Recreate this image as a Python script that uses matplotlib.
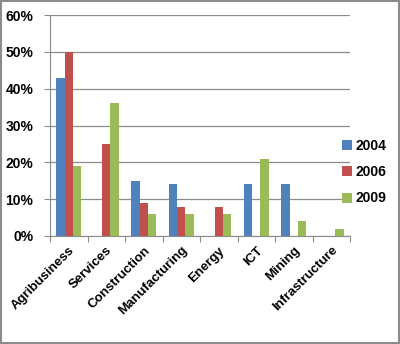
import matplotlib.pyplot as plt
import numpy as np
from matplotlib.patches import Rectangle

sectors = ['Agribusiness', 'Services', 'Construction', 'Manufacturing',
           'Energy', 'ICT', 'Mining', 'Infrastructure']
years = ['2004', '2006', '2009']
share_2004 = [43, 0, 15, 14, 0, 14, 14, 0]
share_2006 = [50, 25, 9, 8, 8, 0, 0, 0]
share_2009 = [19, 36, 6, 6, 6, 21, 4, 2]
colors = ['#4F81BD', '#C0504D', '#9BBB59']

plt.rcParams['font.family'] = ['Liberation Sans', 'DejaVu Sans']

fig = plt.figure(figsize=(4, 3.44), dpi=100)
ax = fig.add_axes([0.125, 0.314, 0.75, 0.642])

x = np.arange(len(sectors))
w = 1 / 4.5
for k, vals in enumerate([share_2004, share_2006, share_2009]):
    ax.bar(x + (k - 1) * w, vals, width=w, color=colors[k], label=years[k], zorder=3)

ax.set_xlim(-0.5, len(sectors) - 0.5)
ax.set_ylim(0, 60)
ax.set_yticks(range(0, 61, 10))
ax.set_yticklabels([f'{v}%' for v in range(0, 61, 10)], fontsize=10, fontweight='bold')
ax.yaxis.grid(True, color='#8c8c8c', linewidth=0.9, zorder=0)

ax.set_xticks(np.arange(-0.5, len(sectors), 1))
ax.set_xticklabels([])
ax.set_xticks(x, minor=True)
ax.set_xticklabels(sectors, minor=True, rotation=45, ha='right', rotation_mode='anchor',
                   fontsize=9.5, fontweight='bold')
ax.tick_params(axis='x', which='minor', length=0, pad=6)
ax.tick_params(axis='x', which='major', length=4, color='#8c8c8c')
ax.tick_params(axis='y', length=4, color='#8c8c8c', pad=8)

for s in ['top', 'right']:
    ax.spines[s].set_visible(False)
for s in ['left', 'bottom']:
    ax.spines[s].set_color('#8c8c8c')

fig.legend(loc='center left', bbox_to_anchor=(0.855, 0.5), frameon=False,
           borderpad=0, borderaxespad=0,
           handlelength=0.7, handleheight=0.7, handletextpad=0.3,
           labelspacing=0.9, prop={'size': 10, 'weight': 'bold'})

fig.patches.append(Rectangle((0.003, 0.003), 0.994, 0.994, transform=fig.transFigure,
                             fill=False, edgecolor='#8c8c8c', linewidth=1.5))

fig.savefig('out.png', dpi=100)
